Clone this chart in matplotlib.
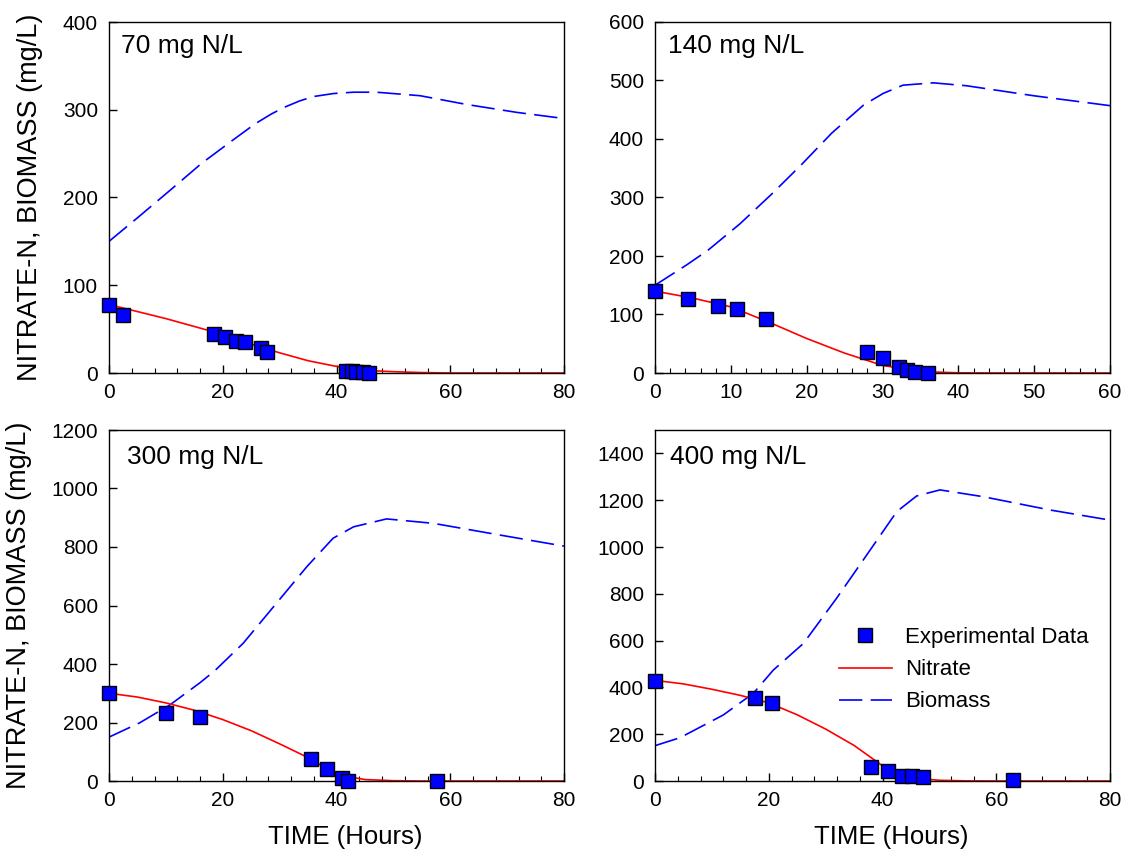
import matplotlib
matplotlib.use("Agg")
import matplotlib.pyplot as plt
from matplotlib.ticker import MultipleLocator

plt.rcParams['font.family'] = ['Liberation Sans', 'DejaVu Sans']

# --- Panel 1: 70 mg N/L ---
t1_obs = [0, 2.5, 18.5, 20.4, 22.3, 23.9, 26.7, 27.7, 41.6, 42.7, 43.5, 44.6, 45.8]
n1_obs = [77, 66, 44, 41, 37, 35, 29, 24, 2.7, 1.9, 1.0, 0.7, 0.3]
t1_nit = [0, 5, 10, 15, 20, 25, 30, 35, 40, 45, 50, 55, 60, 70, 80]
n1_nit = [78, 70, 62, 53, 44, 33, 23, 14, 7.5, 3, 1.5, 0.5, 0, 0, 0]
t1_bio = [0, 5.4, 10.7, 16.3, 21.9, 25.7, 28.5, 30.9, 33.5, 35.9, 39.5, 43, 47, 54.7, 62.9, 71.7, 80]
b1_bio = [150, 179, 208, 239, 266, 284, 295, 303, 310, 315, 318.5, 320, 320, 316, 306, 297, 290]

# --- Panel 2: 140 mg N/L ---
t2_obs = [0, 4.3, 8.3, 10.8, 14.7, 28.0, 30.0, 32.2, 33.2, 34.3, 36.0]
n2_obs = [141, 126, 115, 109, 92, 36, 26, 11, 5, 2, 0]
t2_nit = [0, 5, 10, 15, 20, 25, 30, 35, 40, 45, 50, 55, 60]
n2_nit = [140, 128, 113, 87, 59, 34, 13, 2.5, 0.3, 0, 0, 0, 0]
t2_bio = [0, 4.2, 7, 11.2, 15.4, 19.3, 23.3, 27.5, 30.1, 32.7, 36.7, 41.1, 49.9, 60]
b2_bio = [150, 185, 210, 255, 306, 356, 410, 458, 478, 492, 496, 491, 474, 457]

# --- Panel 3: 300 mg N/L ---
t3_obs = [0, 10, 16, 35.5, 38.4, 40.9, 42.1, 57.6]
n3_obs = [300, 231, 220, 74, 41, 9, 1, 1]
t3_nit = [0, 5, 10, 15, 20, 25, 30, 35, 40, 45, 50, 55, 60, 80]
n3_nit = [300, 287, 267, 242, 210, 172, 127, 80, 22, 5, 1, 0, 0, 0]
t3_bio = [0, 5.4, 10.7, 16, 18.6, 23.6, 27.7, 34.8, 39.4, 43, 48.8, 57, 68.7, 80]
b3_bio = [150, 199, 260, 336, 377, 471, 567, 733, 830, 869, 896, 881, 841, 803]

# --- Panel 4: 400 mg N/L ---
t4_obs = [0, 17.5, 20.5, 38, 41, 43.5, 45.2, 47.1, 62.9]
n4_obs = [429, 353, 332, 61, 43, 23, 23, 16, 4]
t4_nit = [0, 5, 10, 15, 20, 25, 30, 35, 40, 45, 50, 55, 60, 80]
n4_nit = [430, 415, 392, 366, 334, 283, 222, 152, 65, 14, 3, 0.5, 0, 0]
t4_bio = [0, 4.4, 12, 17.3, 20.8, 26.1, 31.9, 36.6, 42.5, 46, 50.1, 57.7, 69.5, 80]
b4_bio = [151, 185, 282, 375, 474, 588, 780, 944, 1151, 1218, 1244, 1215, 1158, 1115]

titles = ['70 mg N/L', '140 mg N/L', '300 mg N/L', '400 mg N/L']
xmax = [80, 60, 80, 80]
xmajor = [20, 10, 20, 20]
ymax = [400, 600, 1200, 1500]
ystep = [100, 100, 200, 200]
ytop = [400, 600, 1200, 1400]

panels = [
    (t1_obs, n1_obs, t1_nit, n1_nit, t1_bio, b1_bio),
    (t2_obs, n2_obs, t2_nit, n2_nit, t2_bio, b2_bio),
    (t3_obs, n3_obs, t3_nit, n3_nit, t3_bio, b3_bio),
    (t4_obs, n4_obs, t4_nit, n4_nit, t4_bio, b4_bio),
]

# axes rectangles in figure fractions (left, bottom, width, height)
W, H = 1129, 855
rects = [
    (109 / W, 1 - 373 / H, 455 / W, 351 / H),
    (655 / W, 1 - 373 / H, 455 / W, 351 / H),
    (109 / W, 1 - 781 / H, 455 / W, 351 / H),
    (655 / W, 1 - 781 / H, 455 / W, 351 / H),
]
title_pos = [(0.026, 0.965), (0.029, 0.965), (0.04, 0.958), (0.033, 0.958)]

fig = plt.figure(figsize=(W / 100, H / 100), dpi=100)

for i, (to, no, tn, nn, tb, bb) in enumerate(panels):
    ax = fig.add_axes(rects[i])
    bio_line, = ax.plot(tb, bb, color='blue', lw=1.2, linestyle=(0, (14, 5)),
                        label='Biomass')
    nit_line, = ax.plot(tn, nn, color='red', lw=1.2, label='Nitrate')
    pts, = ax.plot(to, no, 's', markersize=10, markerfacecolor='blue',
                   markeredgecolor='black', markeredgewidth=1.0,
                   linestyle='none', label='Experimental Data', zorder=5,
                   clip_on=False)

    ax.set_xlim(0, xmax[i])
    ax.set_ylim(0, ymax[i])
    ax.set_xticks(range(0, xmax[i] + 1, xmajor[i]))
    ax.xaxis.set_minor_locator(MultipleLocator(xmajor[i] / 5))
    ax.set_yticks(range(0, ytop[i] + 1, ystep[i]))
    ax.tick_params(which='major', direction='in', length=6, width=1,
                   labelsize=15, pad=7)
    ax.tick_params(which='minor', direction='in', length=3.5, width=0.8)
    ax.tick_params(axis='y', pad=8)
    for s in ax.spines.values():
        s.set_linewidth(1.0)

    ax.text(title_pos[i][0], title_pos[i][1], titles[i], transform=ax.transAxes,
            ha='left', va='top', fontsize=19)

    if i % 2 == 0:
        ax.set_ylabel('NITRATE-N, BIOMASS (mg/L)', fontsize=19.5, labelpad=14)
    if i >= 2:
        ax.set_xlabel('TIME (Hours)', fontsize=18.5)
        ax.xaxis.set_label_coords(0.52, -0.125)
    if i == 3:
        ax.legend([pts, nit_line, bio_line],
                  ['Experimental Data', 'Nitrate', 'Biomass'],
                  loc='upper left', bbox_to_anchor=(0.36, 0.495), frameon=False,
                  fontsize=16, handlelength=2.4, labelspacing=0.5,
                  handletextpad=0.6, numpoints=1)

fig.savefig('out.png', dpi=100)
